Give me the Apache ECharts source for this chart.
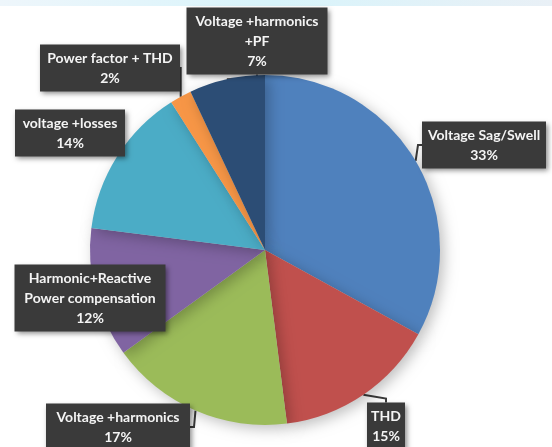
<!DOCTYPE html>
<html>
<head>
<meta charset="utf-8">
<script src="https://cdn.jsdelivr.net/npm/echarts@6/dist/echarts.min.js"></script>
<style>html,body{margin:0;padding:0;background:#fff;}#c{width:552px;height:447px;}</style>
</head>
<body>
<div id="c"></div>
<script>
const categories = [
  'Voltage Sag/Swell',
  'THD',
  'Voltage +harmonics',
  'Harmonic+Reactive\nPower compensation',
  'voltage +losses',
  'Power factor + THD',
  'Voltage +harmonics\n+PF'
];
const values = [33, 15, 17, 12, 14, 2, 7];
const colors = ['#4F81BD', '#C0504D', '#9BBB59', '#8064A2', '#4BACC6', '#F79646', '#2C4D75'];
const labelPos = [[484, 145], [386, 426], [118, 427], [90, 298], [70, 133], [110, 68], [257, 41]];
const labelBoxW = [124, 38, 144, 151, 110, 140, 141];
const showPointer = [true, true, true, false, false, true, true];

const chart = echarts.init(document.getElementById('c'));
chart.setOption({
  animation: false,
  graphic: [{
    type: 'rect', shape: {x: 0, y: 0, width: 552, height: 6}, silent: true,
    style: {fill: new echarts.graphic.LinearGradient(0, 0, 1, 0, [
      {offset: 0, color: '#eef6fb'}, {offset: 0.5, color: '#d8f4fb'}, {offset: 1, color: '#e9f0f6'}
    ])}
  }],
  series: [{
    type: 'pie',
    center: [265, 250],
    radius: 175,
    startAngle: 90,
    clockwise: true,
    data: categories.map((n, i) => ({
      name: n, value: values[i], itemStyle: {color: colors[i]},
      labelLine: {show: showPointer[i]}
    })),
    itemStyle: {
      borderWidth: 0,
      shadowBlur: 14, shadowColor: 'rgba(0,0,0,0.25)', shadowOffsetX: 4, shadowOffsetY: 4
    },
    label: {
      show: true,
      position: 'outside',
      overflow: 'none',
      formatter: p => p.name + '\n' + p.value + '%',
      color: '#f4f4f4',
      fontFamily: 'Lato',
      fontWeight: 'bold',
      fontSize: 14,
      lineHeight: 20,
      align: 'center',
      backgroundColor: '#3a3a3a',
      padding: [4, 7, 3, 7],
      shadowBlur: 5, shadowColor: 'rgba(0,0,0,0.45)', shadowOffsetX: 2, shadowOffsetY: 2
    },
    labelLine: {show: true, length: 4, length2: 4, lineStyle: {color: '#3a3a3a', width: 2}},
    labelLayout: p => ({
      x: labelPos[p.dataIndex][0], y: labelPos[p.dataIndex][1],
      width: labelBoxW[p.dataIndex] - 14,
      align: 'center', verticalAlign: 'middle'
    }),
    emphasis: {disabled: true}
  }]
});
</script>
</body>
</html>
